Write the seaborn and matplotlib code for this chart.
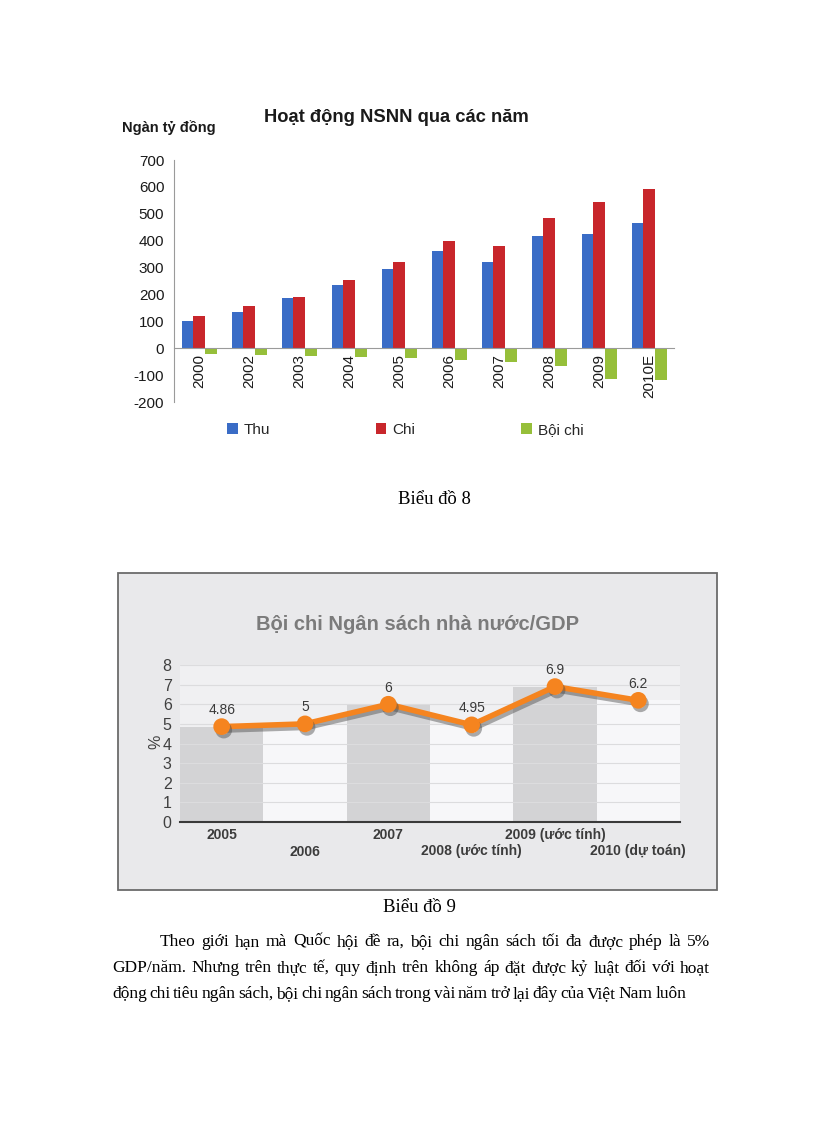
import matplotlib
matplotlib.use('Agg')
import matplotlib.pyplot as plt
import matplotlib.patheffects as pe
from matplotlib.patches import Rectangle
import seaborn as sns
import pandas as pd
import numpy as np

# --- chart 1 data (ngàn tỷ đồng) ---
years = ['2000', '2002', '2003', '2004', '2005', '2006', '2007', '2008', '2009', '2010E']
thu = [102, 134, 188, 234, 293, 361, 319, 416, 425, 466]
chi = [120, 156, 192, 255, 320, 397, 379, 484, 542, 593]
boi_chi = [-20, -24, -30, -34, -36, -45, -51, -66, -115, -120]
series = ['Thu', 'Chi', 'Bội chi']
colors1 = ['#3a6cc6', '#c8262b', '#96bf3a']

# --- chart 2 data (% GDP) ---
gdp_years = ['2005', '2006', '2007', '2008 (ước tính)', '2009 (ước tính)', '2010 (dự toán)']
deficit_pct = [4.86, 5, 6, 4.95, 6.9, 6.2]
deficit_labels = ['4.86', '5', '6', '4.95', '6.9', '6.2']

para = [
    'Theo giới hạn mà Quốc hội đề ra, bội chi ngân sách tối đa được phép là 5%',
    'GDP/năm. Nhưng trên thực tế, quy định trên không áp đặt được kỷ luật đối với hoạt',
    'động chi tiêu ngân sách, bội chi ngân sách trong vài năm trở lại đây của Việt Nam luôn',
]

sns.set_style('white')
plt.rcParams['font.family'] = ['Liberation Sans', 'DejaVu Sans']
plt.rcParams['axes.unicode_minus'] = False

W, H = 816, 1123
fig = plt.figure(figsize=(W / 100, H / 100), dpi=100)
fig.patch.set_facecolor('white')


def fx(x):
    return x / W


def fy(y):
    return 1 - y / H


# ================= chart 1 =================
df1 = pd.DataFrame({
    'Năm': years * 3,
    'Giá trị': thu + chi + boi_chi,
    'Loại': [s for s in series for _ in years],
})
ax1 = fig.add_axes([fx(174), fy(402), 500 / W, 242 / H])
sns.barplot(data=df1, x='Năm', y='Giá trị', hue='Loại', palette=colors1,
            width=0.7, saturation=1, ax=ax1, linewidth=0)
ax1.set_ylim(-200, 700)
ax1.set_xlim(-0.5, 9.5)
ax1.set_yticks(range(-200, 701, 100))
ax1.set_xlabel('')
ax1.set_ylabel('')
for s in ['top', 'right']:
    ax1.spines[s].set_visible(False)
ax1.spines['left'].set_color('#9a9a9a')
ax1.spines['bottom'].set_color('#9a9a9a')
ax1.spines['bottom'].set_position(('data', 0))
ax1.set_xticks(np.arange(0.5, 9.5, 1), minor=True)
ax1.tick_params(axis='x', which='major', length=0, rotation=90, pad=4,
                labelsize=11, labelcolor='#1a1a1a')
ax1.tick_params(axis='x', which='minor', length=4, color='#9a9a9a')
ax1.tick_params(axis='y', length=4, color='#9a9a9a', labelsize=11,
                labelcolor='#1a1a1a', pad=3)
handles, labels = ax1.get_legend_handles_labels()
ax1.legend(handles, labels, loc='center left', bbox_to_anchor=(fx(227), fy(430)),
           bbox_transform=fig.transFigure, ncol=3, frameon=False,
           handlelength=0.7, handleheight=0.7, handletextpad=0.4,
           columnspacing=6.9, fontsize=11, borderpad=0, borderaxespad=0)

fig.text(fx(396), fy(117), 'Hoạt động NSNN qua các năm', ha='center', va='center',
         fontsize=13.2, fontweight='bold', color='#1a1a1a')
fig.text(fx(122), fy(128), 'Ngàn tỷ đồng', ha='left', va='center',
         fontsize=10.5, fontweight='bold', color='#1a1a1a')

# ================= chart 2 =================
fig.add_artist(Rectangle((fx(118), fy(890)), 599 / W, 317 / H, transform=fig.transFigure,
                         facecolor='#e9e9eb', edgecolor='#6b6b6b', lw=1.3, zorder=0))
ax2 = fig.add_axes([fx(180), fy(822), 500 / W, 157 / H])
ax2.set_facecolor('#f0f0f2')
band_colors = ['#d3d3d5', '#f7f7f9'] * 3
sns.barplot(x=gdp_years, y=deficit_pct, hue=gdp_years, palette=band_colors, width=1.0,
            saturation=1, legend=False, ax=ax2, linewidth=0)
sns.pointplot(x=gdp_years, y=deficit_pct, color='#f5841f', markers='o', markersize=9,
              linewidth=4, errorbar=None, ax=ax2)
line = ax2.lines[-1]
line.set_zorder(5)
line.set_path_effects([pe.SimpleLineShadow(offset=(1.5, -2.5), shadow_color='#4a4a4a', alpha=0.45),
                       pe.Normal()])
for i, (v, lbl) in enumerate(zip(deficit_pct, deficit_labels)):
    ax2.annotate(lbl, (i, v), xytext=(0, 7), textcoords='offset points', ha='center',
                 va='bottom', fontsize=10, color='#3a3a3a', zorder=6)

ax2.set_ylim(0, 8)
ax2.set_xlim(-0.5, 5.5)
ax2.set_yticks(range(0, 9))
ax2.yaxis.grid(True, color='#dcdcde', lw=0.8)
ax2.set_axisbelow('line')
ax2.set_xticks(range(6))
ax2.set_xticklabels(gdp_years, fontweight='bold')
ax2.tick_params(axis='x', length=0, pad=4, labelsize=10, labelcolor='#3c3c3c')
for i, tk in enumerate(ax2.xaxis.get_major_ticks()):
    if i % 2:
        tk.set_pad(16.2)
ax2.tick_params(axis='y', length=0, pad=6, labelsize=11.5, labelcolor='#404040')
ax2.set_xlabel('')
ax2.set_ylabel('')
for s in ['top', 'right', 'left']:
    ax2.spines[s].set_visible(False)
ax2.spines['bottom'].set_color('#3a3a3a')
ax2.spines['bottom'].set_linewidth(1.5)

fig.text(fx(418), fy(625), 'Bội chi Ngân sách nhà nước/GDP', ha='center', va='center',
         fontsize=14.5, fontweight='bold', color='#7b7b7b')
fig.text(fx(156), fy(742), '%', rotation=90, ha='center', va='center',
         fontsize=11.5, color='#404040')

# ================= page text =================
serif = ['Liberation Serif', 'DejaVu Serif']
fig.text(fx(434), fy(500), 'Biểu đồ 8', ha='center', va='center', fontsize=13.5,
         family=serif, color='black')
fig.text(fx(419), fy(908), 'Biểu đồ 9', ha='center', va='center', fontsize=13.5,
         family=serif, color='black')

renderer = fig.canvas.get_renderer()


def justify(text, x0, x1, y):
    words = text.split()
    ts = [fig.text(0, fy(y), w, ha='left', va='center', fontsize=12.5,
                   family=serif, color='black') for w in words]
    widths = [t.get_window_extent(renderer).width for t in ts]
    gap = (x1 - x0 - sum(widths)) / (len(words) - 1)
    x = x0
    for t, w in zip(ts, widths):
        t.set_x(fx(x))
        x += w + gap


justify(para[0], 160, 710, 942)
justify(para[1], 112, 710, 968)
justify(para[2], 112, 686, 994)

fig.savefig('out.png', dpi=100, facecolor='white')
